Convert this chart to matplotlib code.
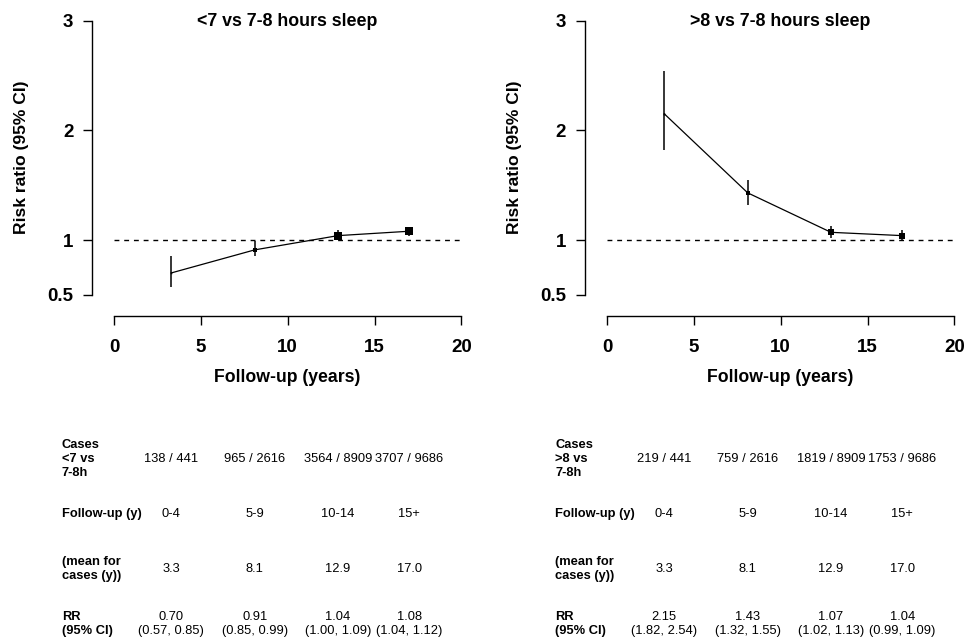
import numpy as np
import matplotlib
matplotlib.use("Agg")
import matplotlib.pyplot as plt
import matplotlib.transforms as mtransforms

plt.rcParams['font.family'] = ['Liberation Sans', 'DejaVu Sans']

# datos
followup = [3.3, 8.1, 12.9, 17.0]
rangos = ['0-4', '5-9', '10-14', '15+']

rr_short = [0.70, 0.91, 1.04, 1.08]
lo_short = [0.57, 0.85, 1.00, 1.04]
hi_short = [0.85, 0.99, 1.09, 1.12]
cases_short = ['138 / 441', '965 / 2616', '3564 / 8909', '3707 / 9686']

rr_long = [2.15, 1.43, 1.07, 1.04]
lo_long = [1.82, 1.32, 1.02, 0.99]
hi_long = [2.54, 1.55, 1.13, 1.09]
cases_long = ['219 / 441', '759 / 2616', '1819 / 8909', '1753 / 9686']

W, H = 965, 638
fig = plt.figure(figsize=(W / 100, H / 100), dpi=100)


def px_rect(left, top, right, bottom):
    return [left / W, 1 - bottom / H, (right - left) / W, (bottom - top) / H]


def panel(x0, titulo, rr, lo, hi, casos, etiqueta):
    # eje en pixeles: y-axis at x0, x=0 at x0+22, 17.35 px/unit
    ax = fig.add_axes(px_rect(x0, 15.2, x0 + 378, 316))
    ax.set_xlim(-1.27, 20.5)
    ax.set_ylim(0.307, 3.05)

    ax.plot([0, 20], [1, 1], color='black', lw=1.0, dashes=(3.5, 3.5))
    ax.plot(followup, rr, color='black', lw=0.9)
    ax.vlines(followup, lo, hi, color='black', lw=1.1)
    for x, r, l, h in zip(followup, rr, lo, hi):
        ms = 0.45 / np.log(h / l)
        ax.plot(x, r, marker='s', color='black', ms=ms, mew=0)

    for s in ['top', 'right']:
        ax.spines[s].set_visible(False)
    ax.spines['left'].set_bounds(0.5, 3)
    ax.spines['bottom'].set_bounds(0, 20)
    for s in ['left', 'bottom']:
        ax.spines[s].set_linewidth(1.0)
    ax.set_yticks([0.5, 1, 2, 3])
    ax.set_yticklabels(['0.5', '1', '2', '3'])
    ax.set_xticks([0, 5, 10, 15, 20])
    ax.tick_params(direction='out', length=6.5, width=1.0, labelsize=13.5)
    ax.tick_params(axis='x', pad=10)
    ax.tick_params(axis='y', pad=7)
    for t in ax.get_xticklabels() + ax.get_yticklabels():
        t.set_fontweight('bold')

    fig.text((x0 + 195) / W, 1 - 21 / H, titulo, ha='center', va='center',
             fontsize=12.8, fontweight='bold')
    fig.text((x0 + 195) / W, 1 - 378 / H, 'Follow-up (years)', ha='center',
             va='center', fontsize=12.7, fontweight='bold')
    fig.text((x0 - 70) / W, 1 - 157 / H, 'Risk ratio (95% CI)', ha='center',
             va='center', rotation=90, fontsize=12.6, fontweight='bold')

    # tabla
    trans = mtransforms.blended_transform_factory(ax.transData, fig.transFigure)
    lx = (x0 - 30) / W
    filas_y = [459, 514, 569, 624]
    etiquetas = [etiqueta, 'Follow-up (y)', '(mean for\ncases (y))', 'RR\n(95% CI)']
    for yy, et in zip(filas_y, etiquetas):
        fig.text(lx, 1 - yy / H, et, ha='left', va='center', fontsize=9.3,
                 fontweight='bold', linespacing=1.25)
    for i, x in enumerate(followup):
        valores = [casos[i], rangos[i], '%.1f' % followup[i],
                   '%.2f\n(%.2f, %.2f)' % (rr[i], lo[i], hi[i])]
        for yy, v in zip(filas_y, valores):
            ax.text(x, 1 - yy / H, v, transform=trans, ha='center', va='center',
                    fontsize=9.3, linespacing=1.25, clip_on=False)
    return ax


panel(92, '<7 vs 7-8 hours sleep', rr_short, lo_short, hi_short, cases_short,
      'Cases\n<7 vs\n7-8h')
panel(585, '>8 vs 7-8 hours sleep', rr_long, lo_long, hi_long, cases_long,
      'Cases\n>8 vs\n7-8h')

fig.savefig('out.png', dpi=100)
